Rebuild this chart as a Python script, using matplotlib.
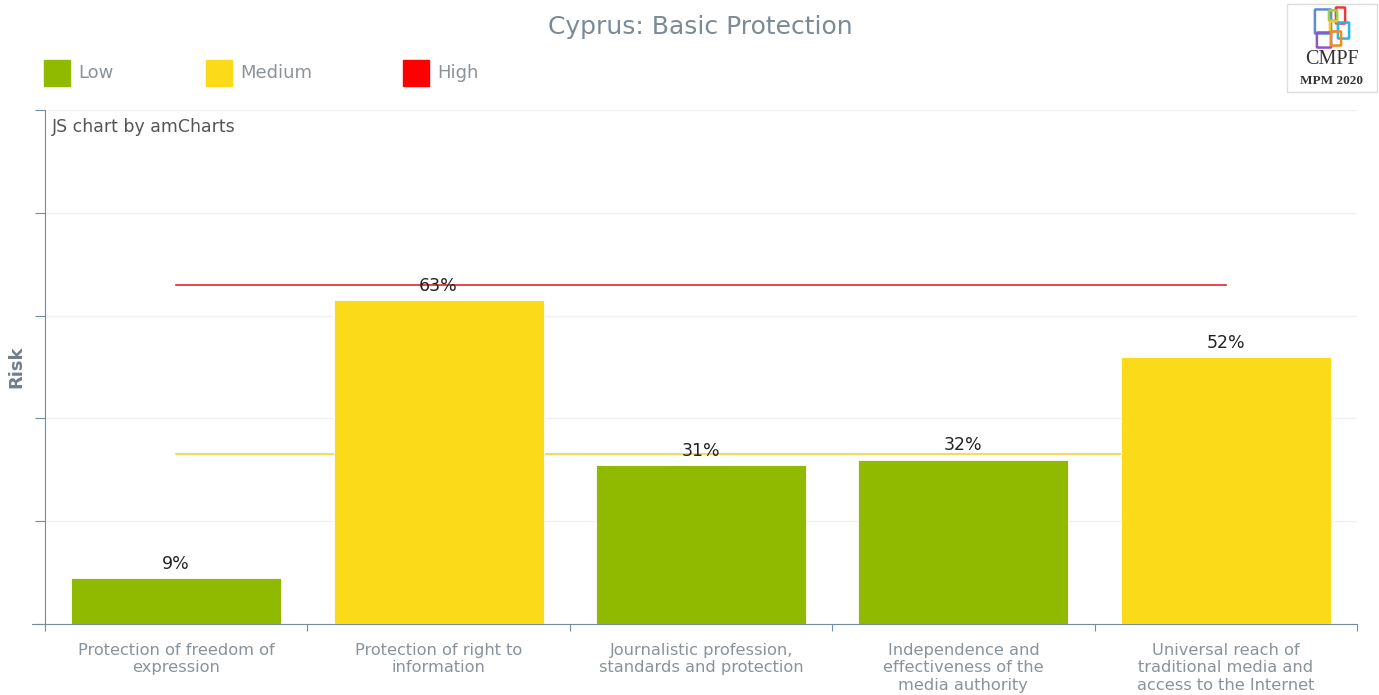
import matplotlib
matplotlib.use('Agg')
import matplotlib.pyplot as plt
from matplotlib.patches import Rectangle, FancyBboxPatch

# Données : indicateurs de protection de base (Chypre)
indicateurs = ['Protection of freedom of\nexpression',
               'Protection of right to\ninformation',
               'Journalistic profession,\nstandards and protection',
               'Independence and\neffectiveness of the\nmedia authority',
               'Universal reach of\ntraditional media and\naccess to the Internet']
risque = [9, 63, 31, 32, 52]
niveaux = ['Low', 'Medium', 'High']
seuil_moyen = 33
seuil_haut = 66

couleurs = {'Low': '#8fba00', 'Medium': '#fbda1a', 'High': '#ff0000'}
axe_col = '#6f8ea0'
texte_col = '#8a9399'


def niveau(v):
    if v < seuil_moyen:
        return 'Low'
    if v < seuil_haut:
        return 'Medium'
    return 'High'


fig = plt.figure(figsize=(13.79, 6.95), dpi=100)
ax = fig.add_axes([45/1379, 71/695, 1312/1379, 514/695])

x = list(range(len(risque)))
ax.bar(x, risque, width=0.8, color=[couleurs[niveau(v)] for v in risque],
       edgecolor='white', linewidth=0.6, zorder=3)
for xi, v in zip(x, risque):
    ax.text(xi, v + 1.0, '%d%%' % v, ha='center', va='bottom',
            fontsize=12.5, color='#222222', zorder=4)

# Lignes de seuil
ax.plot([x[0], x[-1]], [seuil_haut, seuil_haut], color='#e8262a', lw=1.2, zorder=2)
ax.plot([x[0], x[-1]], [seuil_moyen, seuil_moyen], color='#f5d43a', lw=1.2, zorder=2)

ax.set_xlim(-0.5, len(risque) - 0.5)
ax.set_ylim(0, 100)
ax.set_yticks([0, 20, 40, 60, 80, 100])
ax.set_yticklabels([])
ax.tick_params(axis='y', length=7, color=axe_col, direction='out')
ax.grid(axis='y', color='#f0f0f0', lw=1, zorder=0)

ax.set_xticks([i - 0.5 for i in range(len(risque) + 1)], minor=False)
ax.set_xticklabels([])
ax.tick_params(axis='x', length=5, color=axe_col, direction='out')
for xi, lab in zip(x, indicateurs):
    ax.text(xi, -3.6, lab, ha='center', va='top', fontsize=11.7,
            color=texte_col, linespacing=1.22)

for s in ['top', 'right']:
    ax.spines[s].set_visible(False)
ax.spines['left'].set_color(axe_col)
ax.spines['bottom'].set_color(axe_col)
ax.spines['bottom'].set_bounds(-0.55, len(risque) - 0.5)

ax.set_ylabel('Risk', fontsize=13, fontweight='bold', color='#6f7f8c')
ax.yaxis.set_label_coords(-0.015, 0.5)
ax.text(0.005, 0.985, 'JS chart by amCharts', transform=ax.transAxes,
        ha='left', va='top', fontsize=12.5, color='#555555')

fig.text(700/1379, 1 - 27/695, 'Cyprus: Basic Protection', ha='center',
         va='center', fontsize=18, color='#7d8a94')

# Légende
pos = [44, 206, 403]
for px, nom in zip(pos, niveaux):
    fig.patches.append(Rectangle((px/1379, 1 - 86/695), 26/1379, 26/695,
                                 transform=fig.transFigure,
                                 color=couleurs[nom]))
    fig.text((px + 34)/1379, 1 - 73/695, nom, ha='left', va='center',
             fontsize=13, color=texte_col)

# Logo CMPF
fig.patches.append(Rectangle((1287/1379, 1 - 92/695), 90/1379, 88/695,
                             transform=fig.transFigure, fill=False,
                             edgecolor='#dddddd', lw=1))
blocs = [(1316, 10, 14, 23, '#5b8ed6'), (1337, 8, 7, 15, '#e83c3c'),
         (1330, 11, 6, 9, '#9fcf3a'), (1331, 22, 6, 9, '#f5c430'),
         (1339, 23, 9, 15, '#2bb5e8'), (1318, 33, 12, 14, '#8d57c9'),
         (1332, 32, 8, 13, '#f08a24')]
for bx, by, bw, bh, c in blocs:
    fig.patches.append(FancyBboxPatch((bx/1379, 1 - (by + bh)/695), bw/1379, bh/695,
                                      boxstyle='round,pad=0.0008',
                                      transform=fig.transFigure, fill=False,
                                      edgecolor=c, lw=1.8))
fig.text(1332/1379, 1 - 59/695, 'CMPF', ha='center', va='center',
         fontsize=14.5, family='Liberation Serif', color='#333333')
fig.text(1331/1379, 1 - 81/695, 'MPM 2020', ha='center', va='center',
         fontsize=9.5, family='Liberation Serif', fontweight='bold', color='#333333')

fig.savefig('out.png', dpi=100, facecolor='white')
